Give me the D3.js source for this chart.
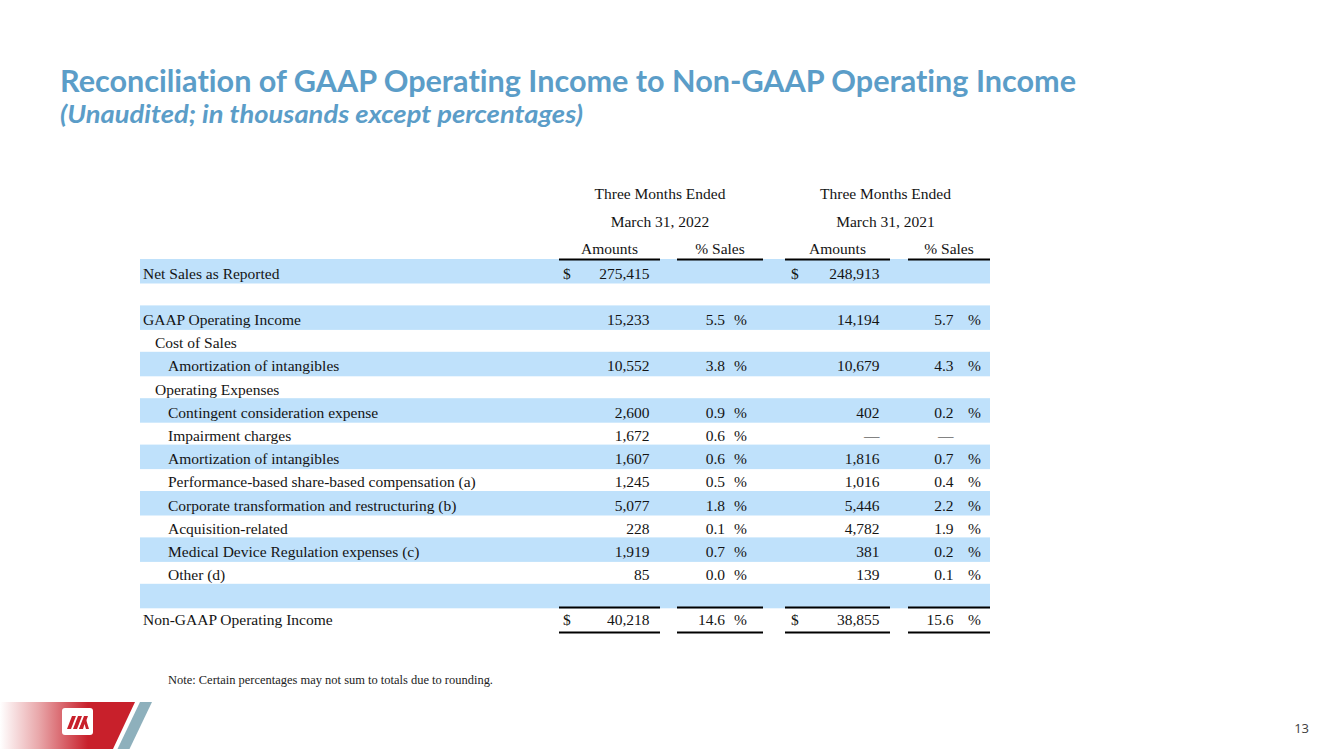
<!DOCTYPE html>
<html>
<head>
<meta charset="utf-8">
<script src="https://cdn.jsdelivr.net/npm/d3@7"></script>
<style>
  html, body { margin: 0; padding: 0; background: #ffffff; }
  svg { display: block; }
  text { font-variant-ligatures: none; font-feature-settings: "liga" 0, "clig" 0; }
</style>
</head>
<body>
<svg id="chart" width="1333" height="749"></svg>
<script>
// ---------------- DATA ----------------
const titleText = "Reconciliation of GAAP Operating Income to Non-GAAP Operating Income";
const subtitleText = "(Unaudited; in thousands except percentages)";
const periodLabels = ["Three Months Ended", "Three Months Ended"];
const dateLabels = ["March 31, 2022", "March 31, 2021"];
const columnLabels = ["Amounts", "% Sales", "Amounts", "% Sales"];

const rowLabels = [
  "Net Sales as Reported",
  "",
  "GAAP Operating Income",
  "Cost of Sales",
  "Amortization of intangibles",
  "Operating Expenses",
  "Contingent consideration expense",
  "Impairment charges",
  "Amortization of intangibles",
  "Performance-based share-based compensation (a)",
  "Corporate transformation and restructuring (b)",
  "Acquisition-related",
  "Medical Device Regulation expenses (c)",
  "Other (d)",
  "",
  "Non-GAAP Operating Income"
];
const rowIndent = [0, 0, 0, 1, 2, 1, 2, 2, 2, 2, 2, 2, 2, 2, 0, 0];
// undefined = blank cell, null = em dash
const amounts2022 = [275415, undefined, 15233, undefined, 10552, undefined, 2600, 1672, 1607, 1245, 5077, 228, 1919, 85, undefined, 40218];
const pctSales2022 = [undefined, undefined, 5.5, undefined, 3.8, undefined, 0.9, 0.6, 0.6, 0.5, 1.8, 0.1, 0.7, 0.0, undefined, 14.6];
const amounts2021 = [248913, undefined, 14194, undefined, 10679, undefined, 402, null, 1816, 1016, 5446, 4782, 381, 139, undefined, 38855];
const pctSales2021 = [undefined, undefined, 5.7, undefined, 4.3, undefined, 0.2, null, 0.7, 0.4, 2.2, 1.9, 0.2, 0.1, undefined, 15.6];
const dollarRows = [0, 15];
const totalRow = 15;
const noteText = "Note: Certain percentages may not sum to totals due to rounding.";
const pageNumber = "13";

// ---------------- LAYOUT ----------------
const svg = d3.select("#chart");
const serif = "'Liberation Serif', 'Times New Roman', serif";
const fs = 15.5;
const ink = "#141414";
const bandColor = "#bfe1fb";
const titleColor = "#5b9dc8";

// Title
svg.append("text")
  .attr("x", 60).attr("y", 91.5)
  .attr("font-family", "Lato, 'Open Sans', sans-serif")
  .attr("font-weight", 700)
  .attr("font-size", 30)
  .attr("fill", titleColor)
  .attr("textLength", 1016).attr("lengthAdjust", "spacingAndGlyphs")
  .text(titleText);
svg.append("text")
  .attr("x", 60).attr("y", 123)
  .attr("font-family", "Lato, 'Open Sans', sans-serif")
  .attr("font-weight", 700)
  .attr("font-style", "italic")
  .attr("font-size", 24)
  .attr("fill", titleColor)
  .attr("textLength", 523).attr("lengthAdjust", "spacingAndGlyphs")
  .text(subtitleText);

// Row scale
const nRows = rowLabels.length;
const y = d3.scaleLinear().domain([0, nRows]).range([259, 259 + 23.2 * nRows]);
const bandH = 24.5;
const baseOff = 19.5;

// Column geometry
const colKeys = ["amt22", "pct22", "amt21", "pct21"];
const colSeg = d3.scaleOrdinal().domain(colKeys).range([[559, 660], [677, 763], [785, 890], [908, 990]]);
const numRight = d3.scaleOrdinal().domain(colKeys).range([649.5, 725, 879.5, 953.5]);
const pctSignX = d3.scaleOrdinal().domain(["pct22", "pct21"]).range([734, 968]);
const dollarX = d3.scaleOrdinal().domain(["amt22", "amt21"]).range([563, 791]);
const indentX = d3.scaleOrdinal().domain([0, 1, 2]).range([143, 155, 168]);
const tableLeft = 140, tableRight = 990;

const fmtAmt = d3.format(",");
const fmtPct = d3.format(".1f");

// Bands (alternating rows)
const rowIdx = d3.range(nRows);
svg.append("g").selectAll("rect")
  .data(rowIdx.filter(i => i % 2 === 0 && i !== totalRow))
  .join("rect")
  .attr("x", tableLeft).attr("y", i => y(i))
  .attr("width", tableRight - tableLeft).attr("height", bandH)
  .attr("fill", bandColor);

// Header
const hdr = svg.append("g").attr("font-family", serif).attr("font-size", fs).attr("fill", ink).attr("text-anchor", "middle");
const periodCenters = [660, 885.5];
periodLabels.forEach((t, k) => {
  hdr.append("text").attr("x", periodCenters[k]).attr("y", 199).text(t);
  hdr.append("text").attr("x", periodCenters[k]).attr("y", 226.5).text(dateLabels[k]);
});
columnLabels.forEach((t, k) => {
  const seg = colSeg(colKeys[k]);
  hdr.append("text").attr("x", (seg[0] + seg[1]) / 2).attr("y", 254).text(t);
});

// Rule lines
const lines = svg.append("g").attr("stroke", "#000").attr("stroke-width", 2);
colKeys.forEach(k => {
  const seg = colSeg(k);
  lines.append("line").attr("x1", seg[0]).attr("x2", seg[1]).attr("y1", y(0) + 0.5).attr("y2", y(0) + 0.5);
  lines.append("line").attr("x1", seg[0]).attr("x2", seg[1]).attr("y1", y(totalRow) + 0.5).attr("y2", y(totalRow) + 0.5);
  lines.append("line").attr("x1", seg[0]).attr("x2", seg[1]).attr("y1", y(totalRow) + 25.5).attr("y2", y(totalRow) + 25.5);
});

// Body text
const body = svg.append("g").attr("font-family", serif).attr("font-size", fs).attr("fill", ink);
rowIdx.forEach(i => {
  const by = y(i) + baseOff - (i === totalRow ? 1.5 : 0);
  if (rowLabels[i]) {
    body.append("text").attr("x", indentX(rowIndent[i])).attr("y", by).text(rowLabels[i]);
  }
  const cells = [
    ["amt22", amounts2022[i], "amt"],
    ["pct22", pctSales2022[i], "pct"],
    ["amt21", amounts2021[i], "amt"],
    ["pct21", pctSales2021[i], "pct"]
  ];
  cells.forEach(([key, v, kind]) => {
    if (v === undefined) return;
    const txt = v === null ? "\u2014" : (kind === "amt" ? fmtAmt(v) : fmtPct(v));
    body.append("text").attr("x", numRight(key)).attr("y", by).attr("text-anchor", "end").text(txt);
    if (kind === "pct" && v !== null) {
      body.append("text").attr("x", pctSignX(key)).attr("y", by).text("%");
    }
    if (kind === "amt" && dollarRows.includes(i)) {
      body.append("text").attr("x", dollarX(key)).attr("y", by).text("$");
    }
  });
});

// Note
svg.append("text")
  .attr("x", 168).attr("y", 683.5)
  .attr("font-family", serif).attr("font-size", 12.5).attr("fill", "#222")
  .attr("textLength", 325).attr("lengthAdjust", "spacingAndGlyphs")
  .text(noteText);

// Footer graphic
const defs = svg.append("defs");
const grad = defs.append("linearGradient").attr("id", "redgrad")
  .attr("gradientUnits", "userSpaceOnUse").attr("x1", 0).attr("x2", 110).attr("y1", 0).attr("y2", 0);
grad.append("stop").attr("offset", 0).attr("stop-color", "#ffffff");
grad.append("stop").attr("offset", 0.35).attr("stop-color", "#e9a8ab");
grad.append("stop").attr("offset", 0.8).attr("stop-color", "#c8202b");
grad.append("stop").attr("offset", 1).attr("stop-color", "#c8202b");

svg.append("polygon").attr("points", "0,702 135,702 113,749 0,749").attr("fill", "url(#redgrad)");
svg.append("polygon").attr("points", "140,702 152,702 129.5,749 117.5,749").attr("fill", "#8eb0bc");
svg.append("rect").attr("x", 62).attr("y", 708).attr("width", 31).attr("height", 27).attr("rx", 3).attr("fill", "#ffffff");
const logo = svg.append("g").attr("fill", "#c8202b");
[0, 6, 12].forEach(dx => {
  logo.append("polygon").attr("points", `${72 + dx},716 ${76 + dx},716 ${71 + dx},729 ${67 + dx},729`);
});
logo.append("polygon").attr("points", "85,716 89,729 79,729");
svg.append("polygon").attr("points", "84.5,724 86,729 83,729").attr("fill", "#ffffff");

// Page number
svg.append("text")
  .attr("x", 1309).attr("y", 733)
  .attr("text-anchor", "end")
  .attr("font-family", "'Open Sans', Lato, sans-serif")
  .attr("font-size", 13).attr("fill", "#404040")
  .text(pageNumber);
</script>
</body>
</html>
